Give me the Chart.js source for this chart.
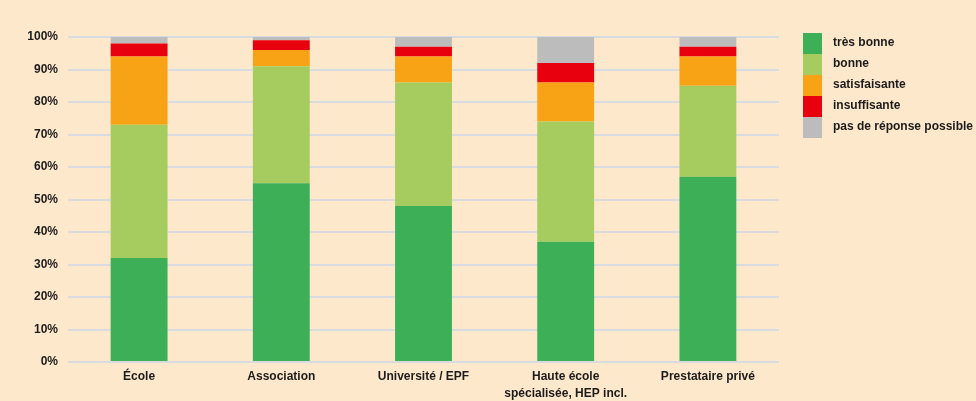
<!DOCTYPE html>
<html>
<head>
<meta charset="utf-8">
<script src="https://cdn.jsdelivr.net/npm/chart.js@4.4.0/dist/chart.umd.min.js"></script>
<style>
  html, body { margin: 0; padding: 0; background: #fee8cc; }
  #wrap { width: 976px; height: 401px; position: relative; }
</style>
</head>
<body>
<div id="wrap"><canvas id="c" width="976" height="401"></canvas></div>
<script>
const categories = ["École", "Association", "Université / EPF", ["Haute école", "spécialisée, HEP incl."], "Prestataire privé"];
const seriesNames = ["très bonne", "bonne", "satisfaisante", "insuffisante", "pas de réponse possible"];
const tresBonne = [32, 55, 48, 37, 57];
const bonne = [41, 36, 38, 37, 28];
const satisfaisante = [21, 5, 8, 12, 9];
const insuffisante = [4, 3, 3, 6, 3];
const pasDeReponse = [2, 1, 3, 8, 3];
const yTicks = [0, 10, 20, 30, 40, 50, 60, 70, 80, 90, 100];
const colors = ["#3daf57", "#a6cb5e", "#f7a315", "#e8000e", "#bbbcbb"];

const seriesValues = [tresBonne, bonne, satisfaisante, insuffisante, pasDeReponse];
const FONT = "'Liberation Sans', Arial, sans-serif";

const legendPlugin = {
  id: 'customLegend',
  afterDraw(chart) {
    const ctx = chart.ctx;
    const x0 = 803, y0 = 33, bw = 19, bh = 21;
    ctx.save();
    ctx.font = "bold 12px " + FONT;
    ctx.textBaseline = 'middle';
    ctx.textAlign = 'left';
    chart.data.datasets.forEach((ds, i) => {
      const y = y0 + i * bh;
      ctx.fillStyle = ds.backgroundColor;
      ctx.fillRect(x0, y, bw, bh);
      ctx.fillStyle = '#1c1c1c';
      ctx.fillText(ds.label, x0 + bw + 11, y + bh / 2 - 1);
    });
    ctx.restore();
  }
};

new Chart(document.getElementById('c'), {
  type: 'bar',
  data: {
    labels: categories,
    datasets: seriesNames.map((n, i) => ({
      label: n,
      data: seriesValues[i],
      backgroundColor: colors[i],
      borderWidth: 0,
      categoryPercentage: 1,
      barPercentage: 0.4
    }))
  },
  options: {
    responsive: false,
    animation: false,
    devicePixelRatio: 1,
    layout: { padding: { left: 0, right: 197, top: 37, bottom: 0 } },
    plugins: { legend: { display: false }, tooltip: { enabled: false } },
    scales: {
      x: {
        stacked: true,
        afterFit(s) { s.height = 39; },
        grid: { display: false, drawTicks: false },
        border: { display: false },
        ticks: { color: '#1c1c1c', font: { family: FONT, size: 12, weight: 'bold', lineHeight: 1.35 }, padding: 7, maxRotation: 0, autoSkip: false }
      },
      y: {
        stacked: true,
        min: 0, max: 100,
        afterFit(s) { s.width = 68; },
        afterBuildTicks(s) { s.ticks = yTicks.map(v => ({ value: v })); },
        grid: { color: '#d8dce0', lineWidth: 2, drawTicks: false },
        border: { display: false },
        ticks: { color: '#1c1c1c', font: { family: FONT, size: 12, weight: 'bold' }, padding: 10, callback: v => v + '%' }
      }
    }
  },
  plugins: [legendPlugin]
});
</script>
</body>
</html>
